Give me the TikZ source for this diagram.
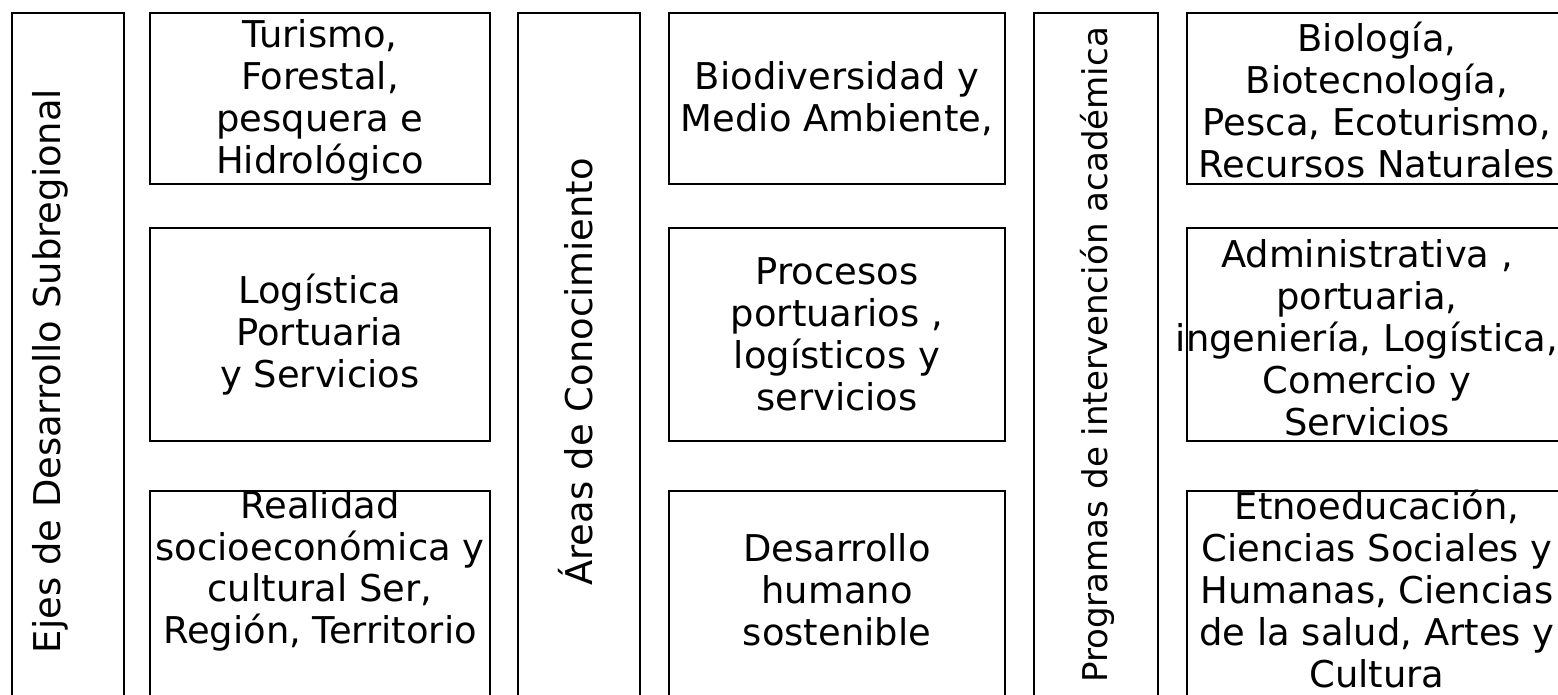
\documentclass[tikz,border=0pt]{standalone}
\usepackage{fontspec}
\setmainfont{DejaVu Sans}
\usetikzlibrary{positioning}

\begin{document}
\begin{tikzpicture}[x=0.02cm, y=-0.02cm,
  cell/.style 2 args={draw, line width=1.1pt, inner sep=0pt, anchor=north west,
    minimum width=#1*0.02cm, minimum height=#2*0.02cm},
  txt/.style={align=center, inner sep=0pt, font=\fontsize{21}{23.9}\selectfont},
  side/.style={rotate=90, anchor=base, inner sep=0pt, font=\fontsize{21}{23.9}\selectfont}]

  \useasboundingbox (0,0) rectangle (1558,695);
  \clip (0,0) rectangle (1558,695);

  % Vertical headers
  \node[cell={112}{720}] (ejes) at (11,12) {};
  \node[cell={122}{720}] (areas) at (517,12) {};
  \node[cell={124}{720}] (prog) at (1033,12) {};

  \node[side] (ejeslbl) at (60,371) {Ejes de Desarrollo Subregional};
  \node[side] (areaslbl) at (592,372) {Áreas de Conocimiento};
  \node[side, font=\fontsize{19.4}{23.9}\selectfont] (proglbl) at (1107,355) {Programas de intervención académica};

  % Ejes column
  \node[cell={340}{171}] (tur) at (149,12) {};
  \node[cell={340}{213}, below=0.84cm of tur.south west, anchor=north west] (log) {};
  \node[cell={340}{240}, below=0.96cm of log.south west, anchor=north west] (real) {};

  % Areas column
  \node[cell={336}{171}] (bio) at (668,12) {};
  \node[cell={336}{213}, below=0.84cm of bio.south west, anchor=north west] (proc) {};
  \node[cell={336}{240}, below=0.96cm of proc.south west, anchor=north west] (hum) {};

  % Programas column
  \node[cell={384}{171}] (biol) at (1186,12) {};
  \node[cell={384}{213}, below=0.84cm of biol.south west, anchor=north west] (adm) {};
  \node[cell={384}{240}, below=0.96cm of adm.south west, anchor=north west] (etno) {};

  % Texts
  \node[txt] at ([yshift=-0.04cm]tur.center) {Turismo,\\Forestal,\\pesquera e\\Hidrológico};
  \node[txt] at (log) {Logística\\Portuaria\\y Servicios};
  \node[txt] at ([yshift=0.80cm]real.center) {Realidad\\socioeconómica y\\cultural Ser,\\Región, Territorio};

  \node[txt] at (bio) {Biodiversidad y\\Medio Ambiente,};
  \node[txt] at (proc) {Procesos\\portuarios ,\\logísticos y\\servicios};
  \node[txt] at ([yshift=0.42cm]hum.center) {Desarrollo\\humano\\sostenible};

  \node[txt] at ([xshift=-0.04cm, yshift=-0.04cm]biol.center) {Biología,\\Biotecnología,\\Pesca, Ecoturismo,\\Recursos Naturales};
  \node[txt] at ([xshift=-0.24cm, yshift=-0.06cm]adm.center) {Administrativa ,\\portuaria,\\ingeniería, Logística,\\Comercio y\\Servicios};
  \node[txt] at ([xshift=-0.04cm, yshift=0.44cm]etno.center) {Etnoeducación,\\Ciencias Sociales y\\Humanas, Ciencias\\de la salud, Artes y\\Cultura};

\end{tikzpicture}
\end{document}
